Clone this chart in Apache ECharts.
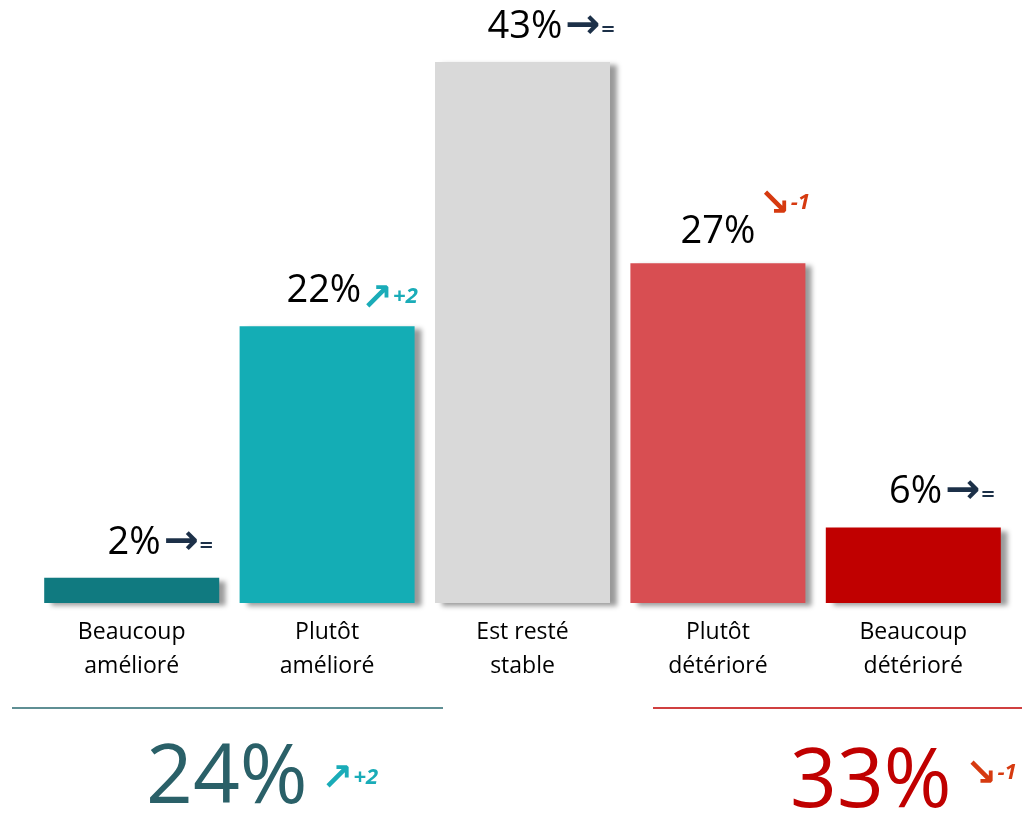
<!doctype html>
<html lang="fr">
<head>
    <meta charset="utf-8" />
    <title>Evolution</title>
    <script type="text/javascript" src="https://cdn.jsdelivr.net/npm/echarts@6.0.0/dist/echarts.min.js"></script>
    <style>
        html, body { margin: 0; padding: 0; background: #fff; }
        #chart { width: 1022px; height: 813px; }
    </style>
</head>
<body>
    <div id="chart"></div>
</body>
<script type="text/javascript">
    // data
    let categories = ['Beaucoup\namélioré', 'Plutôt\namélioré', 'Est resté\nstable', 'Plutôt\ndétérioré', 'Beaucoup\ndétérioré'];
    let values = [2, 22, 43, 27, 6];
    let trend = ['=', '+2', '=', '-1', '='];
    let barColors = ['#107a80', '#14adb5', '#d9d9d9', '#d84e52', '#c00000'];

    // group totals (improved / deteriorated) and their change
    let improved = values[0] + values[1];
    let worsened = values[3] + values[4];
    let improvedTrend = '+2';
    let worsenedTrend = '-1';

    const FONT = '"Open Sans", sans-serif';
    const ARROW_FONT = '"DejaVu Sans", sans-serif';
    const NAVY = '#1c3048';
    const UP = '#1aacb8';
    const DOWN = '#d63a10';

    let valueLabel = function (p) {
        let t = trend[p.dataIndex];
        let v = '{v|' + p.value + '%}';
        if (t === '=') {
            return '{sp| }' + v + '{gap| }{an|→}{eq|=}';
        }
        if (t.charAt(0) === '+') {
            return '{spu| }' + v + '{au|↗}{du|' + t + '}';
        }
        // falling: arrow sits above right of the value
        return '{sp2| }{ad|↘}{dd|' + t + '}\n' + v;
    };

    let richStyles = {
        v: { fontFamily: FONT, fontSize: 38, color: '#000', lineHeight: 40 },
        sp: { width: 58, lineHeight: 40 },
        spu: { width: 50, lineHeight: 40 },
        gap: { width: 3, lineHeight: 40 },
        an: { fontFamily: ARROW_FONT, fontWeight: 'bold', fontSize: 42, color: NAVY, lineHeight: 40 },
        eq: { fontFamily: ARROW_FONT, fontWeight: 'bold', fontSize: 18, color: NAVY, lineHeight: 40, padding: [6, 0, 0, 0] },
        au: { fontFamily: ARROW_FONT, fontWeight: 'bold', fontSize: 38, color: UP, lineHeight: 40, padding: [18, 0, 0, 0] },
        du: { fontFamily: FONT, fontWeight: 'bold', fontStyle: 'italic', fontSize: 22, color: UP, lineHeight: 40, padding: [12, 0, 0, 0] },
        sp2: { width: 133, lineHeight: 14 },
        ad: { fontFamily: ARROW_FONT, fontWeight: 'bold', fontSize: 38, color: DOWN, lineHeight: 14 },
        dd: { fontFamily: FONT, fontWeight: 'bold', fontStyle: 'italic', fontSize: 22, color: DOWN, lineHeight: 14, padding: [0, 0, 6, 0] }
    };

    let bars = values.map(function (v, i) {
        let item = { value: v, itemStyle: { color: barColors[i] } };
        if (trend[i].charAt(0) === '-') {
            item.label = { distance: 11 };
        }
        return item;
    });

    let bigText = function (total, change, color, arrow, arrowColor, raise) {
        return {
            text: '{t|' + total + '%}{g| }{a|' + arrow + '}{d|' + change + '}',
            rich: {
                t: { fontFamily: FONT, fontSize: 82, fill: color },
                g: { width: 14 },
                a: { fontFamily: ARROW_FONT, fontWeight: 'bold', fontSize: 38, fill: arrowColor, padding: [0, 0, raise, 0] },
                d: { fontFamily: FONT, fontWeight: 'bold', fontStyle: 'italic', fontSize: 22, fill: arrowColor, padding: [0, 0, raise + 4, 0] }
            }
        };
    };

    let chartDom = document.getElementById('chart');
    let myChart = echarts.init(chartDom, null, { renderer: 'canvas' });

    let option = {
        animation: false,
        backgroundColor: '#ffffff',
        grid: { left: 34, right: 11, top: 62, bottom: 210 },
        xAxis: {
            type: 'category',
            data: categories,
            axisLine: { show: false },
            axisTick: { show: false },
            axisLabel: {
                interval: 0,
                margin: 12,
                fontFamily: FONT,
                fontSize: 23,
                lineHeight: 34,
                color: '#000'
            }
        },
        yAxis: {
            type: 'value',
            min: 0,
            max: 43,
            show: false,
            splitLine: { show: false }
        },
        series: [{
            type: 'bar',
            barWidth: 175,
            data: bars,
            itemStyle: {
                shadowColor: 'rgba(0,0,0,0.4)',
                shadowBlur: 5,
                shadowOffsetX: 7,
                shadowOffsetY: 3
            },
            label: {
                show: true,
                position: 'top',
                distance: 15,
                formatter: valueLabel,
                rich: richStyles
            }
        }],
        graphic: [
            { type: 'line', shape: { x1: 12, y1: 708, x2: 443, y2: 708 }, style: { stroke: '#2a6a70', lineWidth: 1.5 } },
            { type: 'line', shape: { x1: 653, y1: 708, x2: 1022, y2: 708 }, style: { stroke: '#c00000', lineWidth: 1.5 } },
            { type: 'text', left: 146, top: 739, style: bigText(improved, improvedTrend, '#2a6068', '↗', UP, 0) },
            { type: 'text', left: 790, top: 743, style: bigText(worsened, worsenedTrend, '#c00000', '↘', DOWN, 18) }
        ]
    };

    myChart.setOption(option);
</script>
</html>
